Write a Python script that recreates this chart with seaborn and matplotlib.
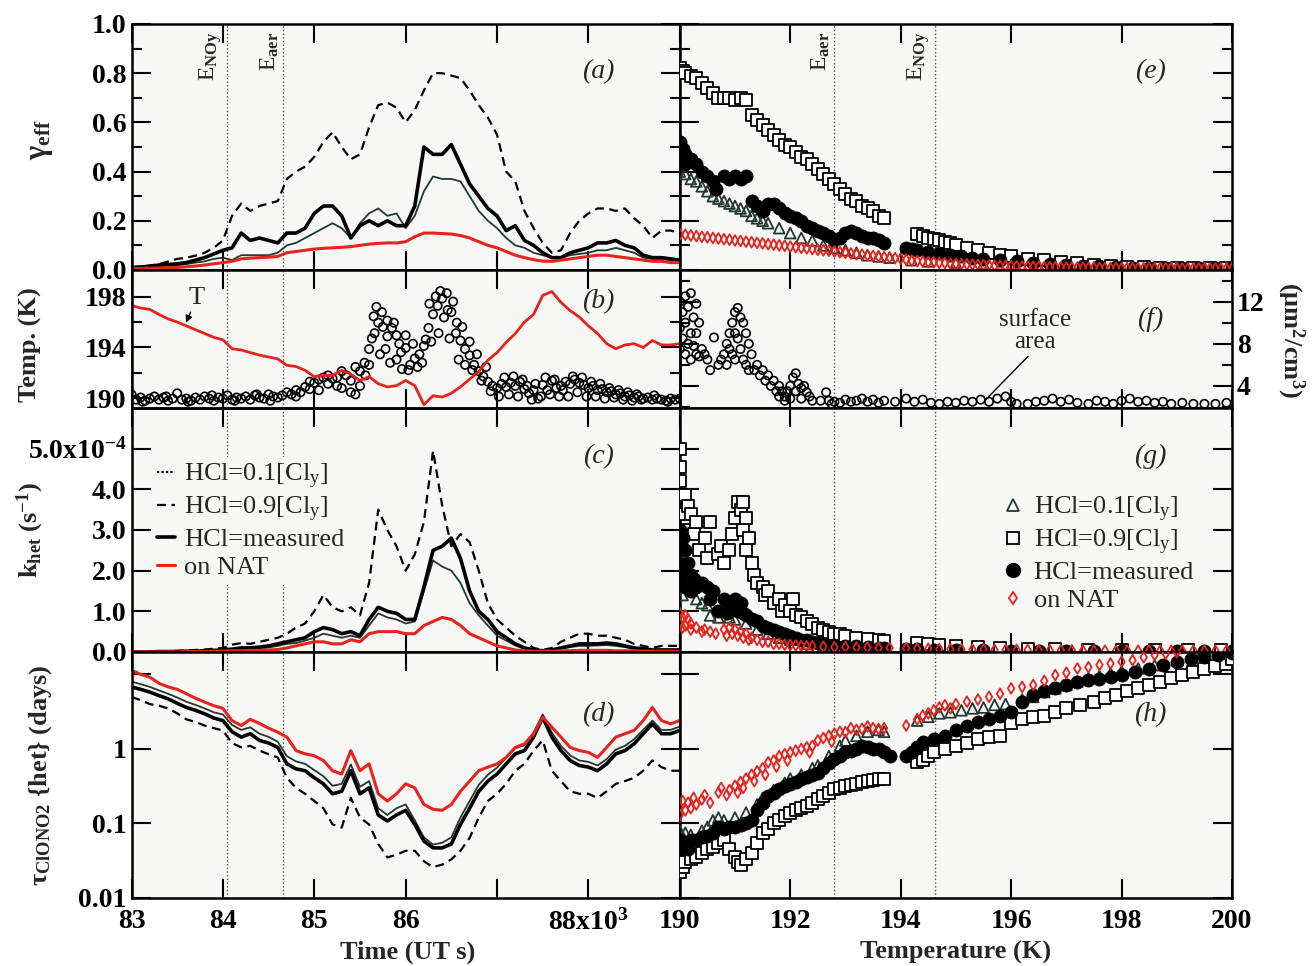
import numpy as np
import matplotlib
matplotlib.use("Agg")
import matplotlib.pyplot as plt
from matplotlib.lines import Line2D
from matplotlib.ticker import FixedLocator, NullLocator
import seaborn as sns

# ---------------- left column: time series (UT s) ----------------
time = np.arange(83000, 89001, 100)
time_sa = np.arange(83000, 89001, 50)

gamma_09 = [0.011, 0.014, 0.018, 0.024, 0.034, 0.045, 0.05, 0.058, 0.07, 0.09,
            0.12, 0.22, 0.27, 0.24, 0.26, 0.27, 0.28, 0.37, 0.40, 0.42,
            0.46, 0.52, 0.56, 0.50, 0.45, 0.47, 0.58, 0.67, 0.68, 0.66,
            0.60, 0.65, 0.73, 0.80, 0.80, 0.79, 0.78, 0.73, 0.67, 0.62,
            0.55, 0.40, 0.36, 0.24, 0.17, 0.11, 0.07, 0.08, 0.15, 0.20,
            0.23, 0.25, 0.25, 0.24, 0.25, 0.21, 0.18, 0.13, 0.16, 0.16, 0.15]
gamma_meas = [0.01, 0.012, 0.015, 0.02, 0.022, 0.025, 0.03, 0.04, 0.05, 0.065,
              0.08, 0.09, 0.15, 0.12, 0.13, 0.12, 0.11, 0.15, 0.15, 0.17,
              0.23, 0.26, 0.26, 0.22, 0.13, 0.18, 0.20, 0.18, 0.20, 0.18,
              0.18, 0.26, 0.50, 0.47, 0.47, 0.51, 0.43, 0.35, 0.30, 0.25,
              0.22, 0.16, 0.18, 0.12, 0.10, 0.07, 0.05, 0.05, 0.07, 0.08,
              0.09, 0.11, 0.11, 0.12, 0.10, 0.09, 0.06, 0.05, 0.05, 0.045, 0.04]
gamma_01 = [0.008, 0.01, 0.012, 0.015, 0.017, 0.02, 0.024, 0.03, 0.035, 0.045,
            0.05, 0.04, 0.06, 0.06, 0.06, 0.06, 0.07, 0.10, 0.11, 0.13,
            0.15, 0.17, 0.19, 0.17, 0.13, 0.19, 0.23, 0.25, 0.22, 0.23,
            0.17, 0.22, 0.32, 0.38, 0.37, 0.37, 0.36, 0.30, 0.24, 0.20,
            0.17, 0.13, 0.10, 0.09, 0.07, 0.06, 0.05, 0.05, 0.06, 0.065,
            0.07, 0.08, 0.08, 0.09, 0.08, 0.07, 0.05, 0.045, 0.045, 0.04, 0.04]
gamma_nat = [0.005, 0.006, 0.007, 0.008, 0.009, 0.01, 0.013, 0.016, 0.02, 0.025,
             0.03, 0.035, 0.045, 0.048, 0.05, 0.052, 0.055, 0.07, 0.075, 0.08,
             0.085, 0.088, 0.09, 0.092, 0.095, 0.10, 0.105, 0.108, 0.11, 0.11,
             0.115, 0.135, 0.15, 0.15, 0.148, 0.146, 0.14, 0.13, 0.115, 0.10,
             0.09, 0.075, 0.06, 0.05, 0.042, 0.036, 0.035, 0.04, 0.045, 0.05,
             0.055, 0.06, 0.06, 0.055, 0.05, 0.045, 0.04, 0.035, 0.035, 0.03, 0.03]

temp_k = [197.3, 197.1, 197.0, 196.6, 196.25, 196.0, 195.7, 195.4, 195.1, 194.8,
          194.6, 193.9, 193.8, 193.6, 193.4, 193.25, 193.1, 192.6, 192.5, 192.2,
          191.7, 191.8, 191.8, 192.2, 191.9, 191.4, 191.7, 191.15, 190.9, 191.0,
          191.4, 191.0, 189.5, 190.2, 190.1, 190.4, 190.9, 191.5, 192.1, 193.0,
          193.6, 194.4, 195.1, 196.0, 196.6, 198.1, 198.4, 197.55, 196.9, 196.4,
          195.7, 195.1, 194.3, 193.9, 194.2, 194.3, 194.0, 194.55, 194.2, 194.2, 194.3]

surface_area = [3.2, 2.7, 2.9, 2.6, 2.8, 3.0, 2.7, 2.9, 2.6, 2.8, 3.3, 2.7, 2.8, 2.6, 2.9, 2.7,
                3.0, 2.8, 2.6, 2.9, 2.8, 3.1, 2.7, 2.9, 2.8, 3.0, 2.7, 3.1, 2.9, 2.8, 3.2, 3.0, 2.9,
                3.1, 3.4, 3.2, 3.6, 3.4, 3.9, 3.7,
                4.3, 4.6, 4.8, 5.0, 4.7, 4.0, 3.8, 5.0, 4.5, 3.2,
                5.4, 6.2, 7.5, 10.6, 10.0, 9.6, 8.7, 9.5, 8.8, 7.2,
                7.6, 6.0, 6.6, 7.0, 7.8, 9.5, 10.8, 11.6, 12.3, 12.8,
                11.0, 9.0, 8.3, 7.5, 6.9, 6.0, 5.4, 4.9, 4.4, 4.0,
                3.8, 4.2, 3.9, 4.3, 4.0, 4.4, 3.7, 3.3, 3.6, 2.8,
                4.1, 3.6, 4.5, 3.8, 4.0, 4.4, 4.2, 4.6, 4.3, 4.1,
                3.8, 4.0, 3.6, 3.7, 3.4, 3.5, 3.2, 3.3, 3.0, 3.1,
                2.9, 3.0, 2.8, 2.9, 2.7, 2.8, 2.7, 2.6, 2.8, 2.7, 2.8]
# extra samples inside the scattered clouds (time s, surface area)
surface_area_spread = [
    (83120, 2.5), (83380, 3.0), (83620, 2.5), (83880, 3.1), (84130, 2.6), (84370, 3.2),
    (84520, 2.6), (84800, 3.0), (84950, 4.4), (85050, 3.6), (85150, 4.2), (85250, 4.8),
    (85300, 5.4), (85400, 3.4), (85450, 5.8), (85500, 4.0), (85560, 5.0), (85600, 6.0),
    (85630, 8.5), (85660, 9.0), (85680, 11.5), (85720, 7.0), (85740, 11.0), (85780, 7.5),
    (85800, 10.2), (85830, 6.2), (85870, 10.0), (85900, 6.5), (85930, 8.0), (85960, 5.6),
    (86000, 8.8), (86030, 5.5), (86080, 8.0), (86130, 5.8), (86180, 6.2), (86220, 8.4),
    (86260, 11.8), (86280, 8.2), (86330, 12.5), (86360, 9.0), (86380, 13.0), (86420, 10.5),
    (86460, 11.2), (86480, 8.5), (86520, 12.0), (86560, 10.0), (86580, 6.5), (86620, 9.6),
    (86650, 6.0), (86700, 8.2), (86730, 5.5), (86780, 7.0), (86830, 4.5), (86880, 5.8),
    (86930, 3.5), (87020, 3.0), (87080, 4.8), (87130, 3.2), (87180, 4.9), (87230, 3.0),
    (87280, 4.6), (87330, 4.0), (87380, 2.7), (87420, 4.2), (87480, 3.0), (87530, 4.8),
    (87580, 3.2), (87630, 4.6), (87680, 3.0), (87720, 3.6), (87780, 3.0), (87830, 4.9),
    (87880, 3.4), (87930, 4.8), (87980, 3.0), (88030, 4.4), (88080, 3.0), (88130, 4.2),
    (88180, 2.8), (88230, 3.8), (88280, 2.9), (88330, 3.6), (88380, 2.7), (88430, 3.4),
    (88480, 2.6), (88530, 3.2), (88580, 2.7), (88720, 3.1), (88870, 2.5)]

# k_het in units of 1e-4 s^-1
k_09 = [0.0, 0.0, 0.01, 0.01, 0.02, 0.03, 0.04, 0.05, 0.06, 0.08,
        0.10, 0.18, 0.22, 0.2, 0.25, 0.3, 0.35, 0.45, 0.6, 0.7,
        1.0, 1.4, 1.1, 1.0, 1.1, 0.9, 1.7, 3.5, 3.0, 2.6,
        2.0, 2.4, 3.2, 4.95, 3.6, 2.6, 2.9, 2.7, 2.0, 1.2,
        0.8, 0.6, 0.4, 0.25, 0.1, 0.05, 0.1, 0.25, 0.35, 0.45,
        0.45, 0.4, 0.4, 0.35, 0.3, 0.2, 0.15, 0.1, 0.15, 0.15, 0.15]
k_meas = [0.0, 0.0, 0.0, 0.01, 0.01, 0.01, 0.02, 0.02, 0.03, 0.04,
          0.05, 0.07, 0.1, 0.1, 0.12, 0.15, 0.2, 0.25, 0.3, 0.35,
          0.5, 0.6, 0.55, 0.45, 0.5, 0.4, 0.8, 1.1, 1.0, 0.95,
          0.8, 0.8, 1.6, 2.5, 2.6, 2.8, 2.3, 1.5, 1.0, 0.8,
          0.5, 0.35, 0.2, 0.1, 0.05, 0.03, 0.05, 0.1, 0.15, 0.2,
          0.2, 0.2, 0.22, 0.2, 0.15, 0.1, 0.08, 0.05, 0.05, 0.05, 0.05]
k_01 = [0.0, 0.0, 0.0, 0.0, 0.01, 0.01, 0.01, 0.02, 0.02, 0.03,
        0.04, 0.05, 0.07, 0.08, 0.09, 0.11, 0.15, 0.2, 0.22, 0.28,
        0.35, 0.45, 0.4, 0.35, 0.4, 0.35, 0.65, 0.95, 0.85, 0.8,
        0.7, 0.75, 1.5, 2.25, 2.1, 2.0, 1.7, 1.2, 0.9, 0.65,
        0.4, 0.28, 0.16, 0.08, 0.04, 0.02, 0.04, 0.08, 0.12, 0.15,
        0.15, 0.16, 0.17, 0.15, 0.12, 0.08, 0.06, 0.04, 0.04, 0.04, 0.04]
k_nat = [0.0, 0.0, 0.0, 0.0, 0.0, 0.0, 0.01, 0.01, 0.01, 0.02,
         0.02, 0.03, 0.03, 0.04, 0.04, 0.05, 0.06, 0.1, 0.15, 0.2,
         0.25, 0.25, 0.2, 0.2, 0.3, 0.25, 0.45, 0.5, 0.5, 0.5,
         0.45, 0.45, 0.65, 0.75, 0.85, 0.8, 0.65, 0.45, 0.35, 0.25,
         0.15, 0.1, 0.05, 0.03, 0.02, 0.02, 0.02, 0.03, 0.03, 0.04,
         0.04, 0.04, 0.04, 0.03, 0.03, 0.03, 0.02, 0.02, 0.02, 0.02, 0.02]

# lifetime of ClONO2 (days)
tau_nat = [11.4, 10.0, 9.2, 7.6, 6.8, 6.3, 5.5, 4.8, 4.25, 3.8,
           3.5, 2.4, 2.06, 2.5, 2.2, 1.9, 1.68, 1.44, 0.95, 0.86,
           0.81, 0.70, 0.51, 0.46, 0.95, 0.51, 0.63, 0.25, 0.20, 0.25,
           0.34, 0.30, 0.18, 0.155, 0.15, 0.18, 0.27, 0.37, 0.51, 0.57,
           0.63, 0.77, 1.05, 1.17, 1.6, 2.67, 1.96, 1.44, 1.05, 0.95,
           0.90, 0.77, 1.05, 1.44, 1.6, 1.77, 2.4, 3.6, 2.4, 2.17, 2.4]
tau_meas = [6.8, 6.3, 5.8, 5.2, 4.7, 4.1, 3.6, 3.3, 2.96, 2.6,
            2.4, 1.7, 1.44, 1.6, 1.3, 1.2, 1.05, 0.63, 0.54, 0.51,
            0.41, 0.34, 0.25, 0.27, 0.51, 0.25, 0.30, 0.13, 0.108, 0.13,
            0.15, 0.097, 0.058, 0.047, 0.047, 0.053, 0.097, 0.16, 0.27, 0.37,
            0.46, 0.63, 0.86, 0.95, 1.44, 2.67, 1.44, 0.95, 0.70, 0.60,
            0.57, 0.51, 0.63, 0.86, 0.95, 1.17, 1.6, 2.17, 1.6, 1.6, 1.77]
tau_01 = [8.0, 7.4, 6.8, 6.1, 5.5, 4.9, 4.3, 3.9, 3.5, 3.1,
          2.9, 2.1, 1.8, 1.95, 1.6, 1.45, 1.25, 0.8, 0.68, 0.63,
          0.52, 0.43, 0.32, 0.34, 0.62, 0.31, 0.37, 0.16, 0.13, 0.16,
          0.18, 0.11, 0.065, 0.052, 0.055, 0.065, 0.12, 0.2, 0.33, 0.45,
          0.56, 0.76, 1.02, 1.12, 1.65, 2.9, 1.65, 1.1, 0.82, 0.7,
          0.67, 0.6, 0.73, 0.98, 1.1, 1.35, 1.8, 2.4, 1.8, 1.8, 2.0]
tau_09 = [5.0, 4.5, 4.0, 3.8, 3.5, 3.0, 2.5, 2.3, 2.06, 1.9,
          1.77, 1.2, 1.05, 1.1, 0.95, 0.85, 0.77, 0.41, 0.30, 0.25,
          0.2, 0.16, 0.097, 0.088, 0.22, 0.12, 0.097, 0.053, 0.035, 0.038,
          0.043, 0.043, 0.031, 0.026, 0.028, 0.033, 0.043, 0.064, 0.12, 0.2,
          0.25, 0.34, 0.51, 0.63, 0.95, 1.3, 0.51, 0.37, 0.27, 0.25,
          0.25, 0.22, 0.27, 0.34, 0.37, 0.41, 0.51, 0.7, 0.57, 0.51, 0.51]

# ---------------- right column: (temperature K, value) ----------------
e_sq = [(190.0, 0.82), (190.05, 0.81), (190.1, 0.80), (190.2, 0.79), (190.3, 0.78), (190.4, 0.76),
        (190.5, 0.74), (190.6, 0.72), (190.7, 0.70), (190.8, 0.70), (190.9, 0.70), (191.0, 0.69),
        (191.1, 0.70), (191.2, 0.69), (191.3, 0.63), (191.4, 0.61), (191.5, 0.59), (191.6, 0.57),
        (191.7, 0.55), (191.8, 0.53), (191.9, 0.51), (192.0, 0.50), (192.1, 0.48), (192.2, 0.46),
        (192.3, 0.45), (192.4, 0.43), (192.5, 0.41), (192.6, 0.39), (192.7, 0.37), (192.8, 0.35),
        (192.9, 0.33), (193.0, 0.31), (193.1, 0.29), (193.2, 0.28), (193.3, 0.26), (193.4, 0.25),
        (193.5, 0.24), (193.6, 0.22), (193.7, 0.21), (194.3, 0.145), (194.4, 0.14), (194.5, 0.13),
        (194.6, 0.125), (194.7, 0.12), (194.8, 0.115), (194.9, 0.11), (195.0, 0.10), (195.2, 0.09),
        (195.4, 0.08), (195.6, 0.07), (195.8, 0.06), (196.0, 0.055), (196.3, 0.045), (196.6, 0.04),
        (196.9, 0.032), (197.2, 0.027), (197.5, 0.022), (197.8, 0.018), (198.1, 0.014), (198.4, 0.012),
        (198.7, 0.01), (199.0, 0.01), (199.3, 0.01), (199.6, 0.01), (199.9, 0.01)]
e_meas = [(190.0, 0.52), (190.0, 0.46), (190.05, 0.49), (190.1, 0.47), (190.1, 0.43), (190.2, 0.45),
          (190.3, 0.43), (190.4, 0.40), (190.5, 0.38), (190.6, 0.36), (190.65, 0.33), (190.8, 0.38),
          (190.9, 0.37), (191.0, 0.38), (191.1, 0.37), (191.2, 0.38), (191.3, 0.28), (191.4, 0.26),
          (191.5, 0.24), (191.6, 0.27), (191.7, 0.27), (191.8, 0.25), (191.9, 0.23), (192.0, 0.22),
          (192.1, 0.21), (192.2, 0.20), (192.3, 0.18), (192.4, 0.17), (192.5, 0.16), (192.6, 0.15),
          (192.7, 0.14), (192.8, 0.12), (192.9, 0.13), (193.0, 0.15), (193.1, 0.16), (193.2, 0.15),
          (193.3, 0.14), (193.4, 0.13), (193.5, 0.13), (193.6, 0.12), (193.7, 0.11), (194.1, 0.09),
          (194.2, 0.085), (194.3, 0.08), (194.5, 0.075), (194.7, 0.07), (194.9, 0.06), (195.1, 0.055),
          (195.3, 0.05), (195.5, 0.045), (195.8, 0.04), (196.1, 0.035), (196.4, 0.03), (196.7, 0.025),
          (197.0, 0.02), (197.3, 0.018), (197.6, 0.015), (197.9, 0.012), (198.2, 0.01), (198.5, 0.01),
          (198.8, 0.01), (199.1, 0.01), (199.4, 0.01), (199.7, 0.01), (200.0, 0.01)]
e_01 = [(190.0, 0.40), (190.1, 0.39), (190.2, 0.37), (190.3, 0.36), (190.4, 0.34), (190.5, 0.32),
        (190.6, 0.30), (190.7, 0.29), (190.8, 0.28), (190.9, 0.27), (191.0, 0.26), (191.1, 0.25),
        (191.2, 0.24), (191.3, 0.22), (191.4, 0.21), (191.5, 0.20), (191.6, 0.19), (191.8, 0.17),
        (192.0, 0.15), (192.2, 0.13), (192.4, 0.12), (192.6, 0.10), (192.8, 0.09), (193.0, 0.08),
        (193.2, 0.07), (193.4, 0.06), (193.6, 0.055), (193.8, 0.05), (194.2, 0.04), (194.5, 0.035),
        (195.0, 0.03), (195.5, 0.025), (196.0, 0.02), (196.5, 0.015), (197.0, 0.012), (197.5, 0.01),
        (198.0, 0.01), (198.5, 0.01), (199.0, 0.01), (199.5, 0.01), (200.0, 0.01)]
nat_temp = np.round(np.arange(190.0, 200.01, 0.1), 1)
e_nat = [0.145, 0.143, 0.14, 0.138, 0.135, 0.133, 0.13, 0.128, 0.125, 0.123,
         0.12, 0.118, 0.115, 0.113, 0.11, 0.108, 0.105, 0.103, 0.10, 0.098,
         0.095, 0.093, 0.09, 0.088, 0.085, 0.082, 0.08, 0.078, 0.075, 0.072,
         0.07, 0.067, 0.064, 0.062, 0.06, 0.057, 0.055, 0.052, 0.05, 0.048,
         0.046, 0.042, 0.038, 0.036, 0.034, 0.032, 0.031, 0.029, 0.028, 0.026,
         0.025, 0.024, 0.023, 0.022, 0.021, 0.02, 0.019, 0.018, 0.017, 0.016,
         0.015, 0.015, 0.014, 0.014, 0.013, 0.013, 0.012, 0.012, 0.011, 0.011,
         0.01, 0.01, 0.01, 0.009, 0.009, 0.009, 0.008, 0.008, 0.008, 0.008,
         0.007, 0.007, 0.007, 0.007, 0.007, 0.007, 0.007, 0.007, 0.007, 0.007,
         0.006, 0.006, 0.006, 0.006, 0.006, 0.006, 0.006, 0.006, 0.006, 0.006, 0.006]

f_sa = [(190.0, 12.0), (190.0, 9.5), (190.0, 7.5), (190.05, 11.0), (190.05, 8.5), (190.1, 12.5),
        (190.1, 10.0), (190.1, 7.0), (190.15, 11.5), (190.15, 8.0), (190.2, 12.8), (190.2, 9.0),
        (190.2, 6.5), (190.25, 10.5), (190.25, 7.8), (190.3, 11.8), (190.3, 9.0), (190.3, 7.0),
        (190.35, 10.0), (190.35, 6.8), (190.4, 7.5), (190.45, 7.0), (190.5, 6.5), (190.55, 5.5),
        (190.62, 8.6), (190.7, 6.0), (190.75, 6.5), (190.8, 7.0), (190.85, 8.0), (190.85, 6.0),
        (190.9, 9.0), (190.9, 7.5), (190.95, 10.0), (190.95, 7.0), (191.0, 11.0), (191.0, 9.0),
        (191.0, 6.5), (191.05, 11.4), (191.05, 8.5), (191.1, 10.5), (191.1, 7.5), (191.15, 10.0),
        (191.15, 6.5), (191.2, 9.0), (191.2, 6.0), (191.25, 8.0), (191.25, 5.5), (191.3, 7.0),
        (191.35, 5.5), (191.4, 6.0), (191.45, 5.0), (191.5, 5.5), (191.55, 4.5), (191.6, 5.0),
        (191.65, 4.0), (191.7, 4.5), (191.75, 3.5), (191.8, 4.0), (191.8, 3.0), (191.85, 3.5),
        (191.9, 3.0), (191.9, 2.6), (191.95, 3.5), (192.0, 4.0), (192.0, 2.8), (192.05, 4.8),
        (192.1, 5.2), (192.1, 3.5), (192.15, 4.2), (192.2, 3.8), (192.2, 2.8), (192.25, 4.0),
        (192.3, 3.4), (192.35, 3.0), (192.4, 2.6), (192.55, 2.6), (192.65, 3.4), (192.7, 2.6),
        (192.75, 2.3), (192.8, 2.5), (192.9, 2.4), (193.0, 2.7), (193.1, 2.5), (193.2, 2.6),
        (193.3, 2.8), (193.4, 2.5), (193.5, 2.7), (193.6, 2.4), (193.7, 2.6), (193.9, 2.5),
        (194.1, 2.8), (194.25, 2.5), (194.4, 2.7), (194.55, 2.4), (194.7, 2.3), (194.85, 2.5),
        (195.0, 2.4), (195.15, 2.6), (195.3, 2.5), (195.45, 2.7), (195.6, 2.5), (195.75, 2.8),
        (195.9, 3.0), (196.0, 2.5), (196.1, 2.3), (196.3, 2.3), (196.45, 2.5), (196.6, 2.6),
        (196.75, 2.8), (196.9, 2.5), (197.05, 2.7), (197.2, 2.4), (197.4, 2.3), (197.55, 2.6),
        (197.7, 2.5), (197.85, 2.3), (198.0, 2.6), (198.15, 2.8), (198.3, 2.5), (198.45, 2.6),
        (198.6, 2.4), (198.75, 2.5), (198.9, 2.3), (199.1, 2.4), (199.3, 2.3), (199.5, 2.3),
        (199.7, 2.3), (199.9, 2.4)]

g_sq = [(190.0, 5.0), (190.0, 4.55), (190.0, 4.2), (190.0, 3.8), (190.05, 3.4), (190.1, 3.85),
        (190.1, 3.0), (190.15, 3.6), (190.2, 3.4), (190.25, 2.9), (190.3, 3.2), (190.35, 2.5),
        (190.45, 2.8), (190.5, 2.3), (190.55, 3.2), (190.7, 2.4), (190.75, 2.6), (190.8, 2.2),
        (190.9, 2.5), (190.95, 2.9), (191.0, 3.3), (191.05, 3.7), (191.1, 3.5), (191.15, 3.7),
        (191.15, 3.0), (191.2, 3.3), (191.2, 2.5), (191.25, 2.8), (191.3, 2.2), (191.35, 1.9),
        (191.4, 1.7), (191.5, 1.6), (191.55, 1.4), (191.6, 1.5), (191.7, 1.2), (191.8, 1.3),
        (191.85, 1.0), (191.9, 1.15), (192.0, 1.0), (192.05, 1.3), (192.1, 0.9), (192.2, 0.85),
        (192.3, 0.75), (192.4, 0.7), (192.5, 0.6), (192.6, 0.55), (192.7, 0.5), (192.8, 0.45),
        (192.9, 0.45), (193.0, 0.4), (193.2, 0.35), (193.4, 0.33), (193.6, 0.3), (193.7, 0.28),
        (194.3, 0.22), (194.5, 0.2), (194.7, 0.18), (195.0, 0.15), (195.4, 0.12), (195.8, 0.1),
        (196.3, 0.08), (196.8, 0.07), (197.4, 0.06), (198.0, 0.05), (198.6, 0.04), (199.2, 0.04),
        (199.8, 0.04)]
g_meas = [(190.0, 3.0), (190.0, 2.6), (190.0, 2.2), (190.0, 1.8), (190.05, 2.8), (190.05, 2.0),
          (190.1, 2.5), (190.1, 1.6), (190.15, 2.2), (190.2, 1.9), (190.2, 1.5), (190.25, 1.8),
          (190.3, 1.6), (190.4, 1.7), (190.5, 1.6), (190.55, 1.3), (190.6, 1.5), (190.7, 1.0),
          (190.8, 1.3), (190.85, 0.95), (190.9, 1.2), (191.0, 1.3), (191.05, 1.0), (191.1, 1.2),
          (191.15, 0.95), (191.2, 0.9), (191.3, 0.8), (191.4, 0.75), (191.5, 0.65), (191.6, 0.6),
          (191.7, 0.55), (191.8, 0.5), (191.9, 0.45), (192.0, 0.4), (192.1, 0.35), (192.2, 0.3),
          (192.3, 0.3), (192.4, 0.25), (192.5, 0.22), (192.6, 0.2), (192.8, 0.17), (193.0, 0.15),
          (193.2, 0.14), (193.4, 0.12), (193.6, 0.1), (193.7, 0.1), (194.1, 0.07), (194.3, 0.07),
          (194.6, 0.06), (195.0, 0.05), (195.5, 0.04), (196.0, 0.03), (196.5, 0.03), (197.0, 0.02),
          (197.5, 0.02), (198.0, 0.02), (198.5, 0.02), (199.0, 0.02), (199.5, 0.02), (200.0, 0.02)]
g_01 = [(190.0, 2.1), (190.0, 1.7), (190.05, 1.4), (190.1, 1.8), (190.2, 1.5), (190.3, 1.3),
        (190.4, 1.2), (190.5, 1.15), (190.55, 0.9), (190.7, 0.85), (190.9, 0.85), (191.0, 0.8),
        (191.2, 0.7), (191.4, 0.55), (191.6, 0.45), (191.8, 0.35), (192.0, 0.3), (192.3, 0.2),
        (192.6, 0.15), (193.0, 0.1), (193.5, 0.07), (194.2, 0.05), (195.0, 0.03), (196.0, 0.02),
        (197.0, 0.01), (198.0, 0.01), (199.0, 0.01), (200.0, 0.01)]
g_nat = [(190.0, 0.95), (190.0, 0.7), (190.05, 0.85), (190.05, 0.6), (190.1, 0.9), (190.1, 0.65),
         (190.15, 0.8), (190.2, 0.7), (190.2, 0.55), (190.3, 0.6), (190.4, 0.5), (190.45, 0.55),
         (190.55, 0.5), (190.65, 0.45), (190.8, 0.55), (190.85, 0.4), (190.9, 0.6), (190.95, 0.45),
         (191.0, 0.55), (191.05, 0.4), (191.1, 0.5), (191.15, 0.35), (191.2, 0.45), (191.25, 0.3),
         (191.3, 0.35), (191.4, 0.3), (191.5, 0.25), (191.6, 0.25), (191.7, 0.2), (191.8, 0.2),
         (191.9, 0.18), (192.0, 0.17), (192.1, 0.16), (192.2, 0.15), (192.3, 0.14), (192.4, 0.14),
         (192.6, 0.13), (192.8, 0.12), (193.0, 0.12), (193.2, 0.11), (193.4, 0.11), (193.6, 0.1),
         (193.8, 0.1), (194.1, 0.09), (194.3, 0.08), (194.5, 0.08), (194.7, 0.07), (194.9, 0.07),
         (195.1, 0.06), (195.3, 0.06), (195.5, 0.06), (195.7, 0.05), (195.9, 0.05), (196.1, 0.05),
         (196.3, 0.05), (196.5, 0.04), (196.7, 0.04), (196.9, 0.04), (197.1, 0.04), (197.3, 0.03),
         (197.5, 0.03), (197.7, 0.03), (197.9, 0.03), (198.1, 0.03), (198.3, 0.03), (198.5, 0.03),
         (198.7, 0.03), (198.9, 0.03), (199.1, 0.03), (199.3, 0.03), (199.5, 0.03), (199.7, 0.03),
         (199.9, 0.03)]

h_sq = [(190.0, 0.022), (190.0, 0.028), (190.05, 0.026), (190.1, 0.03), (190.2, 0.033), (190.3, 0.036),
        (190.4, 0.04), (190.5, 0.045), (190.6, 0.048), (190.7, 0.055), (190.8, 0.06), (190.9, 0.045),
        (191.0, 0.036), (191.05, 0.03), (191.1, 0.028), (191.2, 0.033), (191.3, 0.04), (191.4, 0.055),
        (191.5, 0.075), (191.6, 0.085), (191.7, 0.1), (191.8, 0.11), (191.9, 0.125), (192.0, 0.14),
        (192.1, 0.15), (192.2, 0.16), (192.3, 0.17), (192.4, 0.19), (192.5, 0.21), (192.6, 0.235),
        (192.7, 0.26), (192.8, 0.29), (192.9, 0.3), (193.0, 0.32), (193.1, 0.33), (193.2, 0.34),
        (193.3, 0.355), (193.4, 0.37), (193.5, 0.38), (193.6, 0.39), (193.7, 0.40), (194.3, 0.66),
        (194.4, 0.72), (194.5, 0.8), (194.6, 0.9), (194.8, 1.0), (195.0, 1.1), (195.2, 1.2),
        (195.4, 1.36), (195.6, 1.45), (195.8, 1.5), (196.0, 2.2), (196.2, 2.5), (196.4, 2.65),
        (196.6, 2.8), (196.8, 3.1), (197.0, 3.5), (197.25, 3.9), (197.5, 4.3), (197.7, 4.8),
        (197.9, 5.3), (198.1, 5.9), (198.3, 6.5), (198.5, 7.3), (198.7, 8.0), (198.9, 9.0),
        (199.1, 9.8), (199.3, 10.8), (199.5, 11.8), (199.7, 12.8), (199.9, 13.8), (200.0, 16.0)]
h_meas = [(190.0, 0.06), (190.0, 0.045), (190.05, 0.05), (190.1, 0.055), (190.15, 0.045), (190.2, 0.06),
          (190.3, 0.06), (190.4, 0.065), (190.5, 0.067), (190.6, 0.075), (190.7, 0.09), (190.8, 0.085),
          (190.9, 0.09), (191.0, 0.09), (191.1, 0.095), (191.2, 0.1), (191.3, 0.11), (191.4, 0.15),
          (191.5, 0.19), (191.6, 0.235), (191.7, 0.26), (191.8, 0.29), (191.9, 0.32), (192.0, 0.34),
          (192.1, 0.36), (192.2, 0.39), (192.3, 0.42), (192.4, 0.45), (192.5, 0.48), (192.6, 0.55),
          (192.7, 0.65), (192.8, 0.73), (192.9, 0.8), (193.0, 0.9), (193.1, 0.95), (193.2, 1.0),
          (193.3, 1.1), (193.4, 1.05), (193.5, 1.0), (193.6, 1.0), (193.7, 0.9), (193.8, 0.81),
          (194.1, 0.81), (194.2, 0.9), (194.3, 1.05), (194.4, 1.23), (194.6, 1.35), (194.8, 1.5),
          (195.0, 1.8), (195.2, 2.06), (195.4, 2.3), (195.6, 2.5), (195.8, 2.8), (196.0, 3.1),
          (196.2, 4.3), (196.4, 5.3), (196.6, 5.9), (196.8, 6.5), (197.0, 7.2), (197.2, 8.0),
          (197.4, 8.4), (197.6, 8.8), (197.8, 9.3), (198.0, 9.8), (198.25, 10.8), (198.5, 12.0),
          (198.75, 13.3), (199.0, 14.8), (199.25, 16.0), (199.5, 17.0), (199.75, 18.5), (200.0, 19.5)]
h_01 = [(190.0, 0.08), (190.1, 0.075), (190.2, 0.07), (190.4, 0.08), (190.5, 0.09), (190.6, 0.11),
        (190.7, 0.12), (190.8, 0.11), (191.0, 0.12), (191.2, 0.14), (191.4, 0.18), (191.5, 0.22),
        (191.7, 0.28), (191.9, 0.35), (192.0, 0.4), (192.2, 0.45), (192.4, 0.55), (192.5, 0.6),
        (192.7, 0.8), (192.9, 1.1), (193.0, 1.3), (193.2, 1.5), (193.4, 1.7), (193.6, 1.8),
        (193.7, 1.7), (194.3, 2.4), (194.5, 2.7), (194.7, 3.0), (194.9, 3.1), (195.1, 3.3),
        (195.3, 3.5), (195.5, 3.6), (195.7, 3.9), (195.9, 4.0), (196.2, 4.6), (196.4, 5.0),
        (196.6, 5.8), (196.8, 6.5), (197.0, 7.2), (197.2, 8.0), (197.4, 8.8), (197.6, 9.5),
        (197.8, 10.3), (198.0, 11.0), (198.3, 12.0), (198.6, 13.3), (199.0, 15.5), (199.4, 17.0),
        (199.8, 19.0)]
h_nat = [(190.0, 0.17), (190.0, 0.13), (190.05, 0.2), (190.1, 0.15), (190.15, 0.19), (190.2, 0.16),
         (190.25, 0.22), (190.3, 0.18), (190.4, 0.21), (190.45, 0.24), (190.55, 0.19), (190.7, 0.26),
         (190.75, 0.3), (190.85, 0.24), (190.9, 0.28), (191.0, 0.32), (191.05, 0.26), (191.1, 0.36),
         (191.15, 0.3), (191.2, 0.4), (191.3, 0.45), (191.35, 0.37), (191.4, 0.5), (191.5, 0.55),
         (191.55, 0.45), (191.6, 0.66), (191.7, 0.7), (191.75, 0.58), (191.8, 0.8), (191.9, 0.85),
         (191.95, 0.7), (192.0, 0.9), (192.1, 0.95), (192.2, 1.0), (192.3, 1.05), (192.35, 0.9),
         (192.4, 1.1), (192.5, 1.3), (192.6, 1.4), (192.7, 1.5), (192.75, 1.25), (192.8, 1.6),
         (192.9, 1.7), (193.0, 1.68), (193.1, 1.9), (193.2, 1.8), (193.3, 1.86), (193.4, 2.0),
         (193.5, 1.9), (193.6, 1.85), (193.7, 1.9), (194.1, 2.06), (194.3, 2.5), (194.4, 2.8),
         (194.5, 3.0), (194.6, 3.3), (194.7, 3.6), (194.8, 3.85), (194.9, 3.5), (195.0, 4.0),
         (195.2, 4.3), (195.4, 4.6), (195.6, 5.0), (195.8, 5.5), (196.0, 6.5), (196.2, 6.8),
         (196.4, 7.2), (196.6, 8.2), (196.8, 9.8), (197.0, 10.5), (197.2, 12.0), (197.4, 12.5),
         (197.6, 13.4), (197.8, 14.0), (198.0, 14.8), (198.2, 15.5), (198.4, 17.0), (198.6, 18.2),
         (198.8, 19.0), (199.0, 19.8)]

e_noy_time, e_aer_time = 84040, 84660
e_noy_temp, e_aer_temp = 194.62, 192.8

# ---------------- style ----------------
sns.set_theme(style="ticks")
plt.rcParams["font.family"] = ["Liberation Serif", "DejaVu Serif"]
plt.rcParams["font.weight"] = "bold"
plt.rcParams["mathtext.fontset"] = "custom"
plt.rcParams["mathtext.rm"] = "Liberation Serif"
plt.rcParams["mathtext.it"] = "Liberation Serif:italic"
plt.rcParams["mathtext.bf"] = "Liberation Serif:bold"
plt.rcParams["mathtext.default"] = "regular"

BG = "#f7f7f5"
RED = "#e5231f"
DKG = "#22392d"


def pairs(p):
    return [a for a, b in p], [b for a, b in p]


def style(ax):
    ax.set_facecolor(BG)
    ax.tick_params(which="both", direction="in", top=True, right=True, width=1.5,
                   labelsize=20, colors="black")
    ax.tick_params(which="major", length=14)
    ax.tick_params(which="minor", length=7)
    ax.tick_params(axis="x", pad=8)
    for s in ax.spines.values():
        s.set_linewidth(1.8)
        s.set_color("black")


fig = plt.figure(figsize=(13.14, 9.66), dpi=100)
gs = fig.add_gridspec(4, 2, left=0.1001, right=0.9376, top=0.9752, bottom=0.0704,
                      hspace=0, wspace=0, height_ratios=[246, 138, 244, 246],
                      width_ratios=[548, 552])
ax_a = fig.add_subplot(gs[0, 0])
ax_b = fig.add_subplot(gs[1, 0], sharex=ax_a)
ax_c = fig.add_subplot(gs[2, 0], sharex=ax_a)
ax_d = fig.add_subplot(gs[3, 0], sharex=ax_a)
ax_e = fig.add_subplot(gs[0, 1])
ax_f = fig.add_subplot(gs[1, 1], sharex=ax_e)
ax_g = fig.add_subplot(gs[2, 1], sharex=ax_e)
ax_h = fig.add_subplot(gs[3, 1], sharex=ax_e)
left = [ax_a, ax_b, ax_c, ax_d]
right = [ax_e, ax_f, ax_g, ax_h]

# ---- left column lines ----
def four_lines(ax, v01, v09, vm, vn):
    sns.lineplot(x=time, y=v09, ax=ax, color="black", lw=1.6, linestyle=(0, (4, 2.5)))
    sns.lineplot(x=time, y=v01, ax=ax, color=DKG, lw=1.3)
    sns.lineplot(x=time, y=vm, ax=ax, color="black", lw=2.6)
    sns.lineplot(x=time, y=vn, ax=ax, color=RED, lw=2.2)

four_lines(ax_a, gamma_01, gamma_09, gamma_meas, gamma_nat)
four_lines(ax_c, k_01, k_09, k_meas, k_nat)
four_lines(ax_d, tau_01, tau_09, tau_meas, tau_nat)

ax_b2 = ax_b.twinx()
sns.scatterplot(x=time_sa, y=surface_area, ax=ax_b2, marker="o", s=36,
                facecolor="none", edgecolor="black", linewidth=1.2)
sns.scatterplot(x=pairs(surface_area_spread)[0], y=pairs(surface_area_spread)[1], ax=ax_b2,
                marker="o", s=36, facecolor="none", edgecolor="black", linewidth=1.2)
sns.lineplot(x=time, y=temp_k, ax=ax_b, color=RED, lw=2.0)
ax_b2.set_ylim(1.91, 15.0)
ax_b2.set_yticks([])
ax_b2.set_ylabel("")
ax_b.set_zorder(ax_b2.get_zorder() + 1)
ax_b.patch.set_visible(False)
ax_b2.patch.set_visible(True)
ax_b2.patch.set_facecolor(BG)

# ---- right column scatter ----
def scat(ax, data, kind):
    x, y = data if isinstance(data, tuple) else pairs(data)
    if kind == "sq":
        sns.scatterplot(x=x, y=y, ax=ax, marker="s", s=78, facecolor="white",
                        edgecolor="black", linewidth=1.3, zorder=3)
    elif kind == "tri":
        sns.scatterplot(x=x, y=y, ax=ax, marker="^", s=60, facecolor="none",
                        edgecolor=DKG, linewidth=1.3, zorder=3)
    elif kind == "meas":
        sns.scatterplot(x=x, y=y, ax=ax, marker="o", s=90, color="black",
                        edgecolor="black", linewidth=0.5, zorder=4)
    elif kind == "nat":
        sns.scatterplot(x=x, y=y, ax=ax, marker="d", s=30, facecolor="none",
                        edgecolor=RED, linewidth=1.3, zorder=5)

scat(ax_e, e_sq, "sq"); scat(ax_e, e_01, "tri"); scat(ax_e, e_meas, "meas")
scat(ax_e, (nat_temp, e_nat), "nat")
sns.scatterplot(x=pairs(f_sa)[0], y=pairs(f_sa)[1], ax=ax_f, marker="o", s=36,
                facecolor="none", edgecolor="black", linewidth=1.2)
scat(ax_g, g_sq, "sq"); scat(ax_g, g_01, "tri"); scat(ax_g, g_meas, "meas"); scat(ax_g, g_nat, "nat")
scat(ax_h, h_sq, "sq"); scat(ax_h, h_01, "tri"); scat(ax_h, h_meas, "meas"); scat(ax_h, h_nat, "nat")

# ---- axes setup ----
for ax in left + right:
    style(ax)
    ax.set_xlabel("")
    ax.set_ylabel("")
ax_b.tick_params(right=True)

for ax in left:
    ax.set_xlim(83000, 89000)
    ax.xaxis.set_major_locator(FixedLocator(range(83000, 89001, 1000)))
    ax.xaxis.set_minor_locator(NullLocator())
    ax.axvline(e_noy_time, color="#555555", lw=1.0, ls=":", zorder=1)
    ax.axvline(e_aer_time, color="#555555", lw=1.0, ls=":", zorder=1)
for ax in right:
    ax.set_xlim(190, 200)
    ax.xaxis.set_major_locator(FixedLocator(range(190, 201, 2)))
    ax.xaxis.set_minor_locator(NullLocator())
    ax.axvline(e_noy_temp, color="#555555", lw=1.0, ls=":", zorder=1)
    ax.axvline(e_aer_temp, color="#555555", lw=1.0, ls=":", zorder=1)
    ax.tick_params(labelleft=False)

for ax in [ax_a, ax_b, ax_c, ax_e, ax_f, ax_g]:
    ax.tick_params(labelbottom=False)

ax_d.set_xticklabels(["83", "84", "85", "86", "", "88x10$^3$", ""])
ax_h.set_xticklabels([str(v) for v in range(190, 201, 2)])

for ax in [ax_a, ax_e]:
    ax.set_ylim(0, 1.0)
    ax.yaxis.set_major_locator(FixedLocator([0, 0.2, 0.4, 0.6, 0.8, 1.0]))
    ax.yaxis.set_minor_locator(FixedLocator([0.1, 0.3, 0.5, 0.7, 0.9]))
ax_a.set_yticklabels(["0.0", "0.2", "0.4", "0.6", "0.8", "1.0"])

ax_b.set_ylim(189.24, 200.1)
ax_b.yaxis.set_major_locator(FixedLocator([190, 194, 198]))
ax_b.yaxis.set_minor_locator(FixedLocator([192, 196]))
ax_b.set_yticklabels(["190", "194", "198"])

ax_f.set_ylim(1.91, 15.0)
ax_f.yaxis.set_major_locator(FixedLocator([4, 8, 12]))
ax_f.yaxis.set_minor_locator(FixedLocator([2, 6, 10, 14]))
ax_f.tick_params(labelright=True)
ax_f.set_yticklabels(["4", "8", "12"])

for ax in [ax_c, ax_g]:
    ax.set_ylim(0, 6.0)
    ax.yaxis.set_major_locator(FixedLocator([0, 1, 2, 3, 4, 5]))
    ax.yaxis.set_minor_locator(NullLocator())
ax_c.set_yticklabels(["0.0", "1.0", "2.0", "3.0", "4.0", "5.0x10$^{-4}$"])

for ax in [ax_d, ax_h]:
    ax.set_yscale("log")
    ax.set_ylim(0.00999, 20)
    ax.yaxis.set_major_locator(FixedLocator([0.01, 0.1, 1, 10]))
    ax.yaxis.set_minor_locator(NullLocator())
ax_d.set_yticklabels(["0.01", "0.1", "1", ""])

# ---- panel letters ----
for ax, lab, yy in [(ax_a, "(a)", 0.805), (ax_b, "(b)", 0.77), (ax_c, "(c)", 0.80), (ax_d, "(d)", 0.744),
                    (ax_e, "(e)", 0.805), (ax_f, "(f)", 0.64), (ax_g, "(g)", 0.80), (ax_h, "(h)", 0.744)]:
    ax.text(0.852, yy, lab, transform=ax.transAxes, ha="center", va="center",
            fontsize=20, style="italic", weight="normal")

# ---- E markers ----
ax_a.text(e_noy_time - 25, 0.97, "E$_{\\mathrm{NOy}}$", rotation=90, ha="right", va="top",
          fontsize=17, weight="normal")
ax_a.text(e_aer_time - 25, 0.97, "E$_{\\mathrm{aer}}$", rotation=90, ha="right", va="top",
          fontsize=17, weight="normal")
ax_e.text(e_aer_temp - 0.05, 0.97, "E$_{\\mathrm{aer}}$", rotation=90, ha="right", va="top",
          fontsize=17, weight="normal")
ax_e.text(e_noy_temp - 0.05, 0.97, "E$_{\\mathrm{NOy}}$", rotation=90, ha="right", va="top",
          fontsize=17, weight="normal")

# ---- annotations ----
ax_b.annotate("T", xy=(83596, 195.96), xytext=(83716, 197.9), ha="center", va="center",
              fontsize=19, weight="normal",
              arrowprops=dict(arrowstyle="-|>", lw=1.0, color="black", mutation_scale=10,
                              shrinkA=9, shrinkB=0))
ax_f.annotate("surface\narea", xy=(195.54, 2.7), xytext=(196.43, 9.2), ha="center", va="center",
              fontsize=18, weight="normal", linespacing=1.0,
              arrowprops=dict(arrowstyle="-", lw=1.0, color="black", shrinkA=0, shrinkB=0,
                              relpos=(0.45, 0.0)))

# ---- legends ----
leg_c = [Line2D([], [], color="black", lw=1.6, linestyle=(0, (1, 1))),
         Line2D([], [], color="black", lw=1.6, linestyle=(0, (4, 2.5))),
         Line2D([], [], color="black", lw=2.6),
         Line2D([], [], color=RED, lw=2.2)]
ax_c.legend(leg_c, ["HCl=0.1[Cl$_y$]", "HCl=0.9[Cl$_y$]", "HCl=measured", "on NAT"],
            loc="upper left", bbox_to_anchor=(0.012, 0.855), frameon=True, facecolor=BG,
            edgecolor="none", framealpha=1, handlelength=0.7, handletextpad=0.35,
            labelspacing=0.15, borderpad=0.2, prop={"size": 19, "weight": "normal"})
leg_g = [Line2D([], [], marker="^", ls="none", mfc="none", mec=DKG, ms=8, mew=1.3),
         Line2D([], [], marker="s", ls="none", mfc="none", mec="black", ms=9, mew=1.3),
         Line2D([], [], marker="o", ls="none", mfc="black", mec="black", ms=10),
         Line2D([], [], marker="d", ls="none", mfc="none", mec=RED, ms=6, mew=1.3)]
ax_g.legend(leg_g, ["HCl=0.1[Cl$_y$]", "HCl=0.9[Cl$_y$]", "HCl=measured", "on NAT"],
            loc="upper left", bbox_to_anchor=(0.55, 0.72), frameon=False,
            handlelength=0.8, handletextpad=0.4, labelspacing=0.15, borderpad=0.2,
            prop={"size": 19, "weight": "normal"})

# ---- axis titles ----
fig.text(0.031, 0.855, "γ$_{\\mathrm{eff}}$", rotation=90, ha="center", va="center", fontsize=22)
fig.text(0.023, 0.643, "Temp. (K)", rotation=90, ha="center", va="center", fontsize=19)
fig.text(0.023, 0.451, "k$_{\\mathrm{het}}$ (s$^{-1}$)", rotation=90, ha="center", va="center", fontsize=19)
fig.text(0.031, 0.198, "τ$_{\\mathrm{ClONO2}}$ {het} (days)", rotation=90, ha="center", va="center",
         fontsize=19)
fig.text(0.982, 0.648, "(μm$^2$/cm$^3$)", rotation=270, ha="center", va="center", fontsize=19)
fig.text(0.31, 0.014, "Time (UT s)", ha="center", va="center", fontsize=19)
fig.text(0.727, 0.014, "Temperature (K)", ha="center", va="center", fontsize=19)

fig.savefig("out.png", dpi=100)
